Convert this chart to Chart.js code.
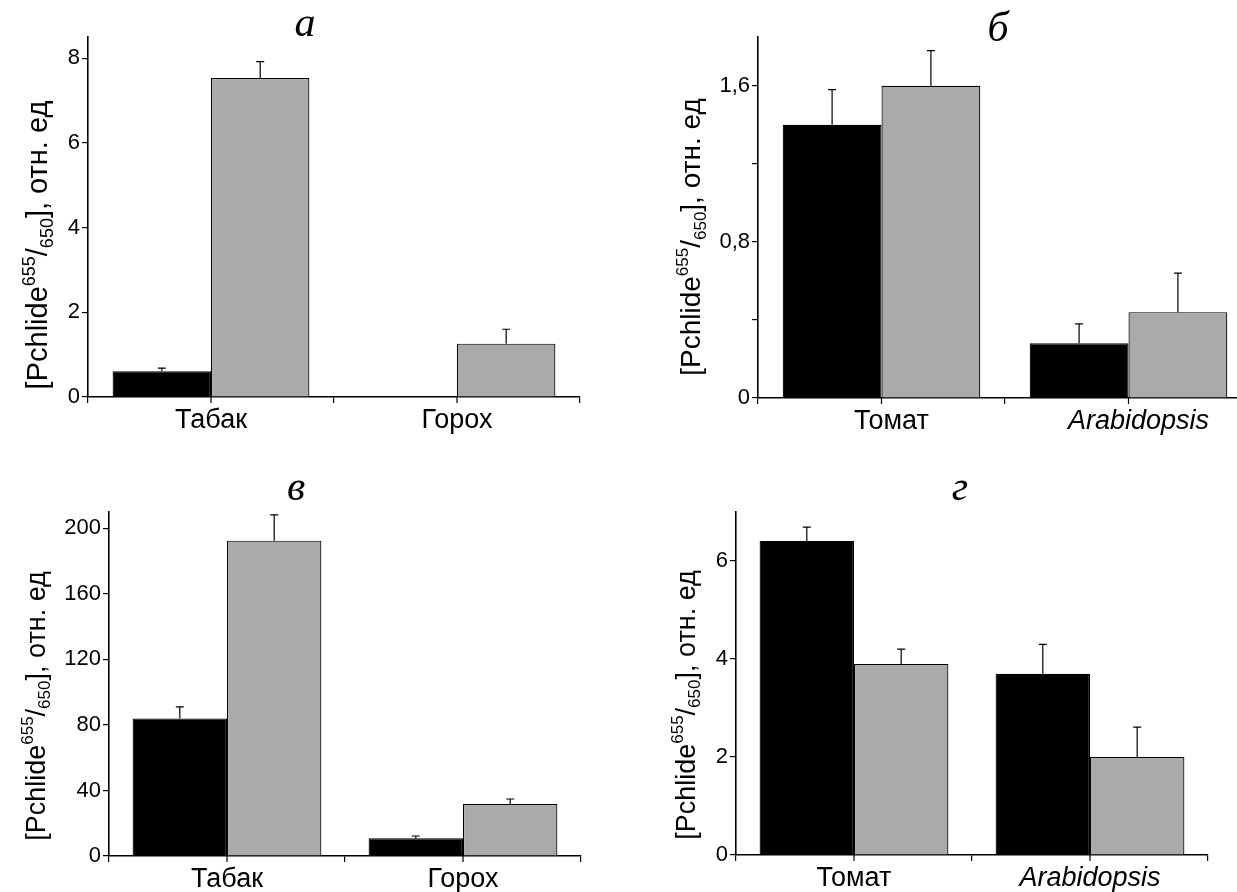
<!DOCTYPE html>
<html><head><meta charset="utf-8">
<script src="https://cdn.jsdelivr.net/npm/chart.js@4.4.0/dist/chart.umd.min.js"></script>
<style>
html,body{margin:0;padding:0;background:#fff;overflow:hidden;width:1237px;height:892px;position:relative;}
canvas{position:absolute;}
</style></head><body>
<canvas id="ca" width="620" height="445" style="left:0;top:0"></canvas>
<canvas id="cb" width="640" height="445" style="left:620px;top:0"></canvas>
<canvas id="cc" width="620" height="447" style="left:0;top:445px"></canvas>
<canvas id="cd" width="617" height="447" style="left:620px;top:445px"></canvas>
<script>
// ---- data ----
const catsA = ['Табак', 'Горох'];
const blackA = [0.61, null];
const blackErrA = [0.07, null];
const grayA = [7.53, 1.26];
const grayErrA = [0.39, 0.34];

const catsB = ['Томат', 'Arabidopsis'];
const blackB = [1.40, 0.28];
const blackErrB = [0.18, 0.10];
const grayB = [1.60, 0.44];
const grayErrB = [0.18, 0.20];

const catsC = ['Табак', 'Горох'];
const blackC = [84, 10.8];
const blackErrC = [7, 1.4];
const grayC = [192.5, 31.7];
const grayErrC = [15.7, 3.1];

const catsD = ['Томат', 'Arabidopsis'];
const blackD = [6.41, 3.70];
const blackErrD = [0.28, 0.60];
const grayD = [3.90, 2.00];
const grayErrD = [0.30, 0.61];

const titles = ['а', 'б', 'в', 'г'];
const yTicksLabelB = [0, 0.8, 1.6];

// ---- plugins ----
const SANS = '"Liberation Sans", Arial, sans-serif';
const SERIF = '"Liberation Serif", "Times New Roman", serif';

const errorBars = {
  id: 'errorBars',
  afterDatasetsDraw(chart) {
    const ctx = chart.ctx, ys = chart.scales.y;
    chart.data.datasets.forEach((ds, di) => {
      if (!ds.errors) return;
      const meta = chart.getDatasetMeta(di);
      meta.data.forEach((el, i) => {
        const v = ds.data[i], e = ds.errors[i];
        if (v == null || e == null) return;
        const x = el.x, y0 = ys.getPixelForValue(v), y1 = ys.getPixelForValue(v + e);
        ctx.save();
        ctx.strokeStyle = '#000'; ctx.lineWidth = 1.2;
        ctx.beginPath();
        ctx.moveTo(x, y0); ctx.lineTo(x, y1);
        ctx.moveTo(x - 4, y1); ctx.lineTo(x + 4, y1);
        ctx.stroke();
        ctx.restore();
      });
    });
  }
};

function drawYLabel(ctx, cx, cy, size) {
  const big = size + 'px ' + SANS;
  const small = Math.round(size * 0.62) + 'px ' + SANS;
  const segs = [
    {t: '[Pchlide', f: big, dy: 0},
    {t: '655', f: small, dy: -size * 0.42},
    {t: '/', f: big, dy: 0},
    {t: '650', f: small, dy: size * 0.2},
    {t: '], отн. ед', f: big, dy: 0}
  ];
  ctx.save();
  ctx.translate(cx, cy);
  ctx.rotate(-Math.PI / 2);
  let total = 0;
  segs.forEach(s => { ctx.font = s.f; s.w = ctx.measureText(s.t).width; total += s.w; });
  let x = -total / 2;
  ctx.textBaseline = 'alphabetic';
  ctx.fillStyle = '#000';
  segs.forEach(s => { ctx.font = s.f; ctx.fillText(s.t, x, s.dy + size * 0.36); x += s.w; });
  ctx.restore();
}

const deco = {
  id: 'deco',
  afterDraw(chart, args, opts) {
    const ctx = chart.ctx, xs = chart.scales.x, area = chart.chartArea;
    // ticks at category centers
    ctx.save();
    ctx.strokeStyle = '#000'; ctx.lineWidth = 1.2;
    ctx.beginPath();
    chart.data.labels.forEach((l, i) => {
      const px = xs.getPixelForValue(i);
      ctx.moveTo(px, area.bottom); ctx.lineTo(px, area.bottom + 6);
    });
    ctx.stroke();
    ctx.restore();
    // panel title
    ctx.save();
    ctx.fillStyle = '#000';
    ctx.font = 'italic ' + opts.titleSize + 'px ' + SERIF;
    ctx.textAlign = 'center'; ctx.textBaseline = 'middle';
    ctx.fillText(opts.title, opts.titleX, opts.titleY);
    ctx.restore();
    drawYLabel(ctx, opts.ylX, opts.ylY, opts.ylSize);
  }
};

function makeChart(id, cats, black, blackErr, gray, grayErr, yOpts, layout, decoOpts) {
  const c = document.getElementById(id);
  return new Chart(c, {
    type: 'bar',
    data: {
      labels: cats,
      datasets: [
        {data: black, errors: blackErr, backgroundColor: '#000', borderColor: '#000', borderWidth: 1.2,
         categoryPercentage: 0.8, barPercentage: 1.0},
        {data: gray, errors: grayErr, backgroundColor: '#aaaaaa', borderColor: '#000', borderWidth: 1.2,
         categoryPercentage: 0.8, barPercentage: 1.0}
      ]
    },
    options: {
      responsive: false, animation: false, devicePixelRatio: 1,
      layout: {padding: {left: 0, top: layout.top, right: layout.right, bottom: 0}},
      plugins: {legend: {display: false}, tooltip: {enabled: false}, title: {display: false}, deco: decoOpts},
      scales: {
        x: {
          grid: {display: true, drawOnChartArea: false, offset: true, tickLength: 6, color: '#000', lineWidth: 1.2},
          border: {display: true, color: '#000', width: 1.6},
          ticks: {
            color: '#000', padding: 1, labelOffset: layout.lo || 0,
            font: (ctx) => ({family: SANS, size: 27, style: (cats[ctx.index] === 'Arabidopsis') ? 'italic' : 'normal'})
          },
          afterFit: (s) => { s.height = layout.xh; }
        },
        y: {
          min: 0, max: yOpts.max,
          grid: {display: true, drawOnChartArea: false, tickLength: 6, color: '#000', lineWidth: 1.2},
          border: {display: true, color: '#000', width: 1.6},
          ticks: {
            stepSize: yOpts.step, includeBounds: false, color: '#000', padding: 2,
            font: {family: SANS, size: 22},
            callback: yOpts.cb
          },
          afterFit: (s) => { s.width = layout.yw; }
        }
      }
    },
    plugins: [errorBars, deco]
  });
}

makeChart('ca', catsA, blackA, blackErrA, grayA, grayErrA,
  {max: 8.5, step: 2, cb: (v) => String(v)},
  {top: 37, right: 40, xh: 48, yw: 88},
  {title: titles[0], titleX: 305, titleY: 25, titleSize: 42, ylX: 37, ylY: 245, ylSize: 29});

makeChart('cb', catsB, blackB, blackErrB, grayB, grayErrB,
  {max: 1.85, step: 0.4, cb: (v) => {
    const hit = yTicksLabelB.find(t => Math.abs(t - v) < 1e-6);
    return hit === undefined ? '' : String(hit).replace('.', ',');
  }},
  {top: 37, right: 8, xh: 47, yw: 138, lo: 10},
  {title: titles[1], titleX: 378, titleY: 30, titleSize: 42, ylX: 70, ylY: 237, ylSize: 28});

makeChart('cc', catsC, blackC, blackErrC, grayC, grayErrC,
  {max: 210, step: 40, cb: (v) => String(v)},
  {top: 67, right: 39, xh: 36, yw: 109},
  {title: titles[2], titleX: 296, titleY: 44, titleSize: 42, ylX: 35, ylY: 261, ylSize: 27});

makeChart('cd', catsD, blackD, blackErrD, grayD, grayErrD,
  {max: 7, step: 2, cb: (v) => String(v)},
  {top: 67, right: 29, xh: 37, yw: 116},
  {title: titles[3], titleX: 340, titleY: 44, titleSize: 42, ylX: 65, ylY: 260, ylSize: 27});
</script>
</body></html>
